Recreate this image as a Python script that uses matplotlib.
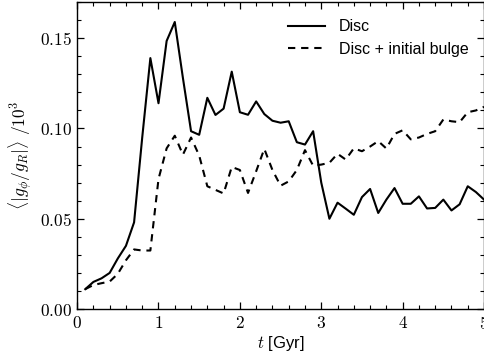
import numpy as np
import matplotlib
matplotlib.use("Agg")
import matplotlib.pyplot as plt
from matplotlib.ticker import MultipleLocator, FuncFormatter

plt.rcParams['font.family'] = ['Liberation Sans', 'DejaVu Sans']
plt.rcParams['mathtext.fontset'] = 'cm'

# tiempo en Gyr
t = np.round(np.arange(1, 51) * 0.1, 1)

disc = [0.011, 0.015, 0.017, 0.020, 0.028, 0.035, 0.048, 0.095, 0.139, 0.114,
        0.1485, 0.159, 0.128, 0.0985, 0.0965, 0.117, 0.1075, 0.111, 0.1315, 0.109,
        0.1076, 0.115, 0.108, 0.1043, 0.1032, 0.104, 0.0924, 0.0911, 0.0985, 0.070,
        0.050, 0.0589, 0.0556, 0.0522, 0.062, 0.0665, 0.0532, 0.0606, 0.067, 0.0583,
        0.0583, 0.0624, 0.0557, 0.056, 0.0606, 0.0546, 0.058, 0.068, 0.0648, 0.0606]

bulge = [0.011, 0.0133, 0.0143, 0.0152, 0.0195, 0.027, 0.033, 0.0324, 0.0324, 0.072,
         0.089, 0.096, 0.0855, 0.095, 0.085, 0.068, 0.066, 0.064, 0.0787, 0.077,
         0.0643, 0.0763, 0.0887, 0.077, 0.0683, 0.0707, 0.077, 0.088, 0.0794, 0.080,
         0.081, 0.086, 0.0828, 0.089, 0.0874, 0.090, 0.093, 0.0889, 0.097, 0.099,
         0.094, 0.095, 0.097, 0.0985, 0.105, 0.104, 0.1035, 0.109, 0.110, 0.112]

fig = plt.figure(figsize=(4.85, 3.56), dpi=100)
ax = fig.add_axes([0.159, 0.132, 0.839, 0.862])

ax.plot(t, disc, color='black', lw=1.5, label='Disc')
ax.plot(t, bulge, color='black', lw=1.5, linestyle=(0, (3.5, 2.8)),
        label='Disc + initial bulge')

ax.set_xlim(0, 5)
ax.set_ylim(0, 0.17)
ax.xaxis.set_major_locator(MultipleLocator(1))
ax.xaxis.set_minor_locator(MultipleLocator(0.2))
ax.yaxis.set_major_locator(MultipleLocator(0.05))
ax.yaxis.set_minor_locator(MultipleLocator(0.01))
ax.xaxis.set_major_formatter(FuncFormatter(lambda v, p: r'$%d$' % round(v)))
ax.yaxis.set_major_formatter(FuncFormatter(lambda v, p: r'$%.2f$' % v))

ax.tick_params(which='both', direction='in', top=True, right=True, labelsize=12.5)
ax.tick_params(which='major', length=5, width=0.9, pad=4)
ax.tick_params(which='minor', length=3, width=0.8)
for s in ax.spines.values():
    s.set_linewidth(1.0)

ax.set_xlabel(r'$t$ [Gyr]', fontsize=12, labelpad=2)
ax.set_ylabel(r'$\langle|g_\phi/g_R|\rangle\ /10^3$', fontsize=12.5, labelpad=4)

ax.legend(loc='upper right', frameon=False, fontsize=11.5, handlelength=2.3,
          handletextpad=0.9, labelspacing=0.45, borderaxespad=0.3,
          bbox_to_anchor=(0.99, 0.98))

fig.savefig('out.png', dpi=100)
